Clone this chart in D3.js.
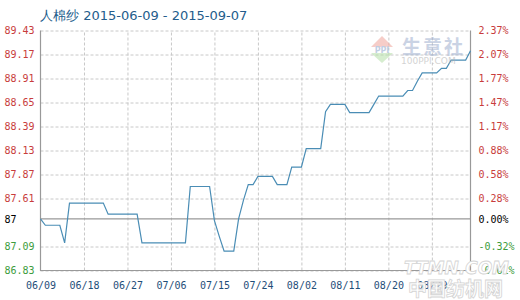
<!DOCTYPE html>
<html>
<head>
<meta charset="utf-8">
<script src="https://cdn.jsdelivr.net/npm/d3@7"></script>
<style>
body{margin:0;background:#fff;}
svg{display:block;font-family:"DejaVu Sans Mono",monospace;}
.grid line{stroke:#c8c8c8;stroke-dasharray:3,2;}
.grid path{display:none;}
.axis path,.axis line{display:none;}
</style>
</head>
<body>
<svg id="chart" width="520" height="300" viewBox="0 0 520 300"></svg>
<script>
// daily price, 06/09 .. 09/06 (one value per day)
let prices = [
    87.39,
    87.32, 87.32, 87.32, 87.32,
    87.13,
    87.56, 87.56, 87.56, 87.56, 87.56, 87.56, 87.56, 87.56,
    87.44, 87.44, 87.44, 87.44, 87.44, 87.44, 87.44,
    87.13, 87.13, 87.13, 87.13, 87.13, 87.13, 87.13, 87.13, 87.13, 87.13,
    87.74, 87.74, 87.74, 87.74, 87.74,
    87.37, 87.20,
    87.04, 87.04, 87.04,
    87.39, 87.59,
    87.76, 87.76,
    87.85, 87.85, 87.85, 87.85,
    87.76, 87.76, 87.76,
    87.95, 87.95, 87.95,
    88.15, 88.15, 88.15, 88.15,
    88.55,
    88.63, 88.63, 88.63, 88.63,
    88.54, 88.54, 88.54, 88.54, 88.54,
    88.63,
    88.72, 88.72, 88.72, 88.72, 88.72, 88.72,
    88.78, 88.78,
    88.88,
    88.97, 88.97, 88.97, 88.97,
    89.02, 89.02,
    89.11, 89.11, 89.11, 89.11,
    89.21
];

let basePrice = 87.39;
let leftTickValues = [89.43, 89.17, 88.91, 88.65, 88.39, 88.13, 87.87, 87.61, 87.39, 87.09, 86.83];
let leftTickLabels = ["89.43", "89.17", "88.91", "88.65", "88.39", "88.13", "87.87", "87.61", "87", "87.09", "86.83"];
let rightTickLabels = ["2.37%", "2.07%", "1.77%", "1.47%", "1.17%", "0.88%", "0.58%", "0.28%", "0.00%", "-0.32%", "-0.61%"];

let xTickIndex = [0, 9, 18, 27, 36, 45, 54, 63, 72, 81];
let xTickLabels = ["06/09", "06/18", "06/27", "07/06", "07/15", "07/24", "08/02", "08/11", "08/20", "08/29"];

let title = "人棉纱 2015-06-09 - 2015-09-07";

let margins = {top: 30.5, right: 49.5, bottom: 29.5, left: 40.5};
let totalWidth = 520, totalHeight = 300;
let innerWidth = totalWidth - margins.left - margins.right;
let innerHeight = totalHeight - margins.top - margins.bottom;

let chart = d3.select("#chart");

let xScale = d3.scaleLinear([0, prices.length - 1], [0, innerWidth]);
let yScale = d3.scaleLinear([86.83, 89.43], [innerHeight, 0]);

function tickColor(v){
    if (v > basePrice) return "#c83c3c";
    if (v < basePrice) return "#3c9c3c";
    return "#000";
}

let g = chart.append("g")
    .attr("transform", `translate(${margins.left},${margins.top})`);

// horizontal grid (skip the base line, it is drawn solid)
g.append("g")
    .attr("class", "grid")
    .call(d3.axisLeft(yScale)
        .tickValues(leftTickValues.filter(v => v !== basePrice))
        .tickFormat("")
        .tickSize(-innerWidth));

// vertical grid
g.append("g")
    .attr("class", "grid")
    .attr("transform", `translate(0,${innerHeight})`)
    .call(d3.axisBottom(xScale)
        .tickValues(xTickIndex.slice(1))
        .tickFormat("")
        .tickSize(innerHeight));
g.selectAll(".grid").filter((d, i) => i === 1).selectAll("line")
    .attr("y2", -innerHeight);

// base line
g.append("line")
    .attr("x1", 0).attr("x2", innerWidth)
    .attr("y1", yScale(basePrice)).attr("y2", yScale(basePrice))
    .attr("stroke", "#999").attr("stroke-width", 1.2);

// frame: left, bottom, right
g.append("path")
    .attr("d", `M0,0V${innerHeight}H${innerWidth}V0`)
    .attr("fill", "none")
    .attr("stroke", "#999")
    .attr("stroke-width", 1.2);

// left axis labels (left aligned at the page edge)
let leftAxis = g.append("g")
    .attr("class", "axis")
    .attr("transform", "translate(-6,0)")
    .call(d3.axisLeft(yScale)
        .tickValues(leftTickValues)
        .tickSize(0)
        .tickFormat((d, i) => leftTickLabels[i]));
leftAxis.selectAll("text")
    .attr("x", -30)
    .attr("text-anchor", "start")
    .attr("font-size", 10)
    .attr("font-family", '"DejaVu Sans Mono",monospace')
    .attr("fill", d => tickColor(d));

// right axis labels
let rightAxis = g.append("g")
    .attr("class", "axis")
    .attr("transform", `translate(${innerWidth + 5},0)`)
    .call(d3.axisRight(yScale)
        .tickValues(leftTickValues)
        .tickSize(0)
        .tickFormat((d, i) => rightTickLabels[i]));
rightAxis.selectAll("text")
    .attr("font-size", 10)
    .attr("font-family", '"DejaVu Sans Mono",monospace')
    .attr("fill", d => tickColor(d));

// bottom labels
let bottomAxis = g.append("g")
    .attr("class", "axis")
    .attr("transform", `translate(0,${innerHeight + 8})`)
    .call(d3.axisBottom(xScale)
        .tickValues(xTickIndex)
        .tickSize(0)
        .tickFormat((d, i) => xTickLabels[i]));
bottomAxis.selectAll("text")
    .attr("font-size", 10)
    .attr("font-family", '"DejaVu Sans Mono",monospace')
    .attr("fill", "#1f4e79");

// price line
let line = d3.line()
    .x((d, i) => xScale(i))
    .y(d => yScale(d));

g.append("path")
    .datum(prices)
    .attr("d", line)
    .attr("fill", "none")
    .attr("stroke", "#4a8db5")
    .attr("stroke-width", 1.2);

// title
chart.append("text")
    .attr("x", 40)
    .attr("y", 20)
    .attr("font-family", '"DejaVu Sans",sans-serif')
    .attr("font-size", 13)
    .attr("fill", "#245d8c")
    .text(title);

// watermark top right (100ppi logo)
let logo = chart.append("g").attr("opacity", 0.55);
logo.append("path")
    .attr("d", "M382,36L393,47H371Z")
    .attr("fill", "#f0a59c");
logo.append("path")
    .attr("d", "M371,53H393L382,63Z")
    .attr("fill", "#b6e0a8");
logo.append("text")
    .attr("x", 382).attr("y", 53)
    .attr("text-anchor", "middle")
    .attr("font-family", '"DejaVu Sans",sans-serif')
    .attr("font-weight", "bold")
    .attr("font-size", 8)
    .attr("fill", "#8ea6cc")
    .text("PPI");
logo.append("text")
    .attr("x", 402).attr("y", 54)
    .attr("font-family", '"Noto Sans CJK SC",sans-serif')
    .attr("font-weight", "bold")
    .attr("font-size", 19)
    .attr("letter-spacing", 2)
    .attr("fill", "#9fb0cf")
    .text("生意社");
logo.append("text")
    .attr("x", 401).attr("y", 64)
    .attr("font-family", '"DejaVu Sans",sans-serif')
    .attr("font-size", 9)
    .attr("fill", "#b0b0b0")
    .text("100PPI.COM");

// watermark bottom right
let wm = chart.append("g");
wm.append("text")
    .attr("x", 404).attr("y", 274)
    .attr("font-family", '"DejaVu Sans",sans-serif')
    .attr("font-weight", "bold")
    .attr("font-style", "italic")
    .attr("font-size", 17)
    .attr("fill", "#fff")
    .attr("stroke", "#d4d4d4")
    .attr("stroke-width", 0.8)
    .text("TTMN.COM");
wm.append("text")
    .attr("x", 408).attr("y", 296)
    .attr("font-family", '"Noto Sans CJK SC",sans-serif')
    .attr("font-weight", "bold")
    .attr("font-size", 19)
    .attr("fill", "#fff")
    .attr("stroke", "#d4d4d4")
    .attr("stroke-width", 0.8)
    .text("中国纺机网");
</script>
</body>
</html>
